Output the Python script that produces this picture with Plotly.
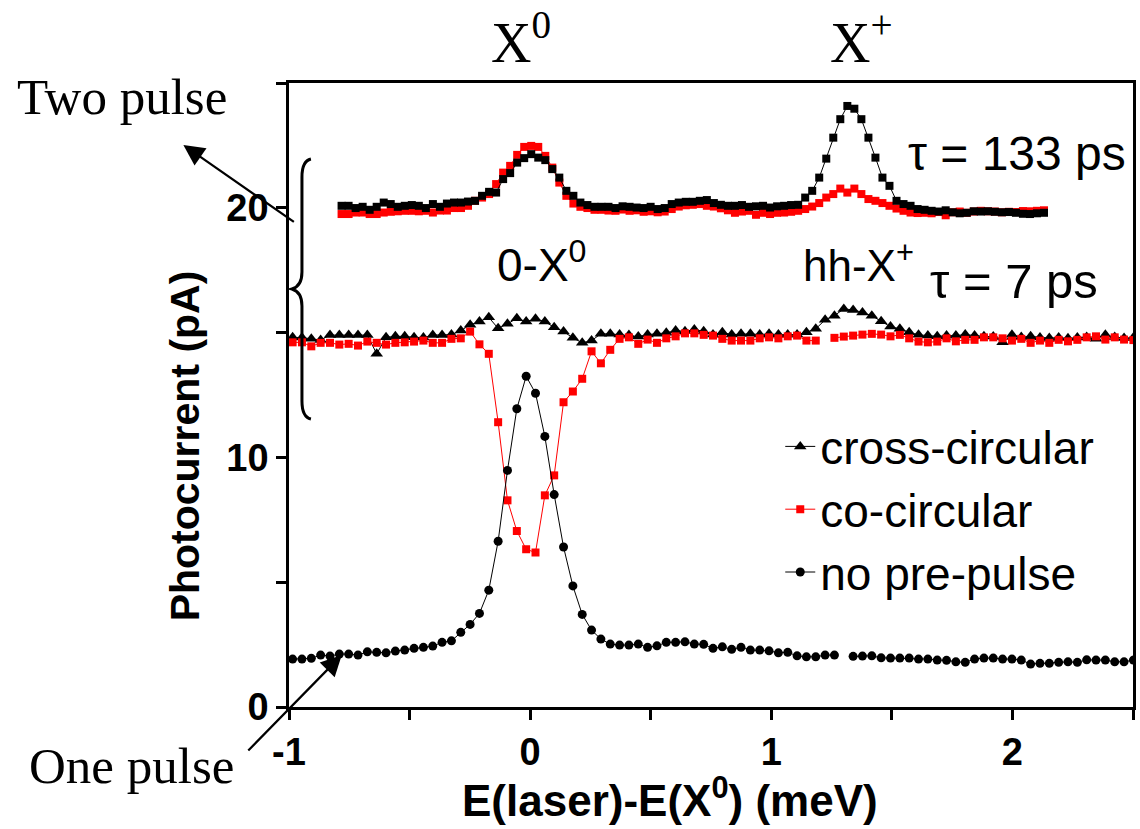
import numpy as np
import plotly.graph_objects as go

# ---------------- data ----------------
# energy grid of the one-pulse / 7 ps scans (meV)
MID_X_START, MID_X_STEP, MID_N = -0.985, 0.03874, 91
# energy grid of the 133 ps scans (meV)
TOP_X_START, TOP_X_STEP, TOP_N = -0.782, 0.02913, 101

x_mid = np.round(MID_X_START + MID_X_STEP * np.arange(MID_N), 4)
x_top = np.round(TOP_X_START + TOP_X_STEP * np.arange(TOP_N), 4)

# tau = 133 ps, cross-circular (black squares)
top_cross = [20.08, 20.08, 19.99, 20.04, 19.92, 20.04, 20.21, 20.15, 20.04, 20.08,
             20.11, 20.08, 19.99, 20.15, 20.04, 20.17, 20.21, 20.21, 20.25, 20.28,
             20.48, 20.64, 20.61, 21.15, 21.39, 21.81, 21.99, 22.15, 22.01, 21.91,
             21.55, 21.21, 20.68, 20.48, 20.21, 20.11, 20.04, 20.04, 20.04, 19.99,
             20.06, 20.04, 20.01, 19.99, 20.04, 19.95, 19.99, 20.15, 20.21, 20.24,
             20.24, 20.28, 20.31, 20.19, 20.12, 20.08, 20.08, 20.11, 20.04, 20.06,
             20.08, 20.01, 20.06, 20.08, 20.11, 20.12, 20.41, 20.68, 21.21, 21.97,
             22.81, 23.55, 24.08, 23.97, 23.55, 22.81, 22.01, 21.21, 20.88, 20.28,
             20.15, 20.08, 19.95, 19.92, 19.88, 19.85, 19.90, 19.82, 19.78, 19.80,
             19.86, 19.85, 19.86, 19.84, 19.82, 19.83, 19.80, 19.76, 19.75, 19.78,
             19.80]
# tau = 133 ps, co-circular (red squares)
top_co = [19.75, 19.75, 19.81, 19.81, 19.75, 19.75, 19.81, 19.84, 19.86, 19.88,
          19.88, 19.86, 19.88, 19.81, 19.89, 19.89, 19.99, 19.99, 20.08, 20.28,
          20.41, 20.55, 20.95, 21.41, 21.68, 22.12, 22.44, 22.48, 22.44, 22.08,
          21.61, 21.01, 20.48, 20.17, 20.04, 19.99, 19.92, 19.92, 19.89, 19.88,
          19.93, 19.88, 19.90, 19.84, 19.86, 19.82, 19.85, 19.95, 20.05, 20.10,
          20.12, 20.15, 20.08, 20.05, 19.98, 19.90, 19.80, 19.85, 19.88, 19.72,
          19.80, 19.75, 19.80, 19.81, 19.84, 19.88, 19.95, 20.05, 20.19, 20.41,
          20.55, 20.77, 20.61, 20.77, 20.55, 20.35, 20.28, 20.19, 20.08, 19.97,
          19.88, 19.81, 19.79, 19.80, 19.78, 19.83, 19.70, 19.82, 19.85, 19.80,
          19.85, 19.88, 19.86, 19.85, 19.82, 19.84, 19.83, 19.87, 19.86, 19.88,
          19.90]
# tau = 7 ps, cross-circular (black triangles)
mid_cross = [14.81, 14.80, 14.75, 14.70, 14.90, 14.90, 14.90, 14.90, 14.90, 14.15,
             14.81, 14.85, 14.85, 14.81, 14.80, 14.90, 14.90, 14.92, 15.08, 15.31,
             15.44, 15.61, 15.17, 15.35, 15.57, 15.44, 15.55, 15.44, 15.21, 15.04,
             14.79, 14.59, 14.68, 14.95, 14.95, 14.92, 14.90, 14.84, 14.92, 14.95,
             14.99, 15.08, 15.05, 15.12, 15.05, 14.92, 15.01, 14.92, 14.95, 14.95,
             14.92, 14.95, 14.92, 14.92, 14.92, 15.01, 15.15, 15.51, 15.68, 15.95,
             15.91, 15.81, 15.68, 15.45, 15.24, 15.15, 15.01, 14.91, 14.88, 14.85,
             14.88, 14.88, 14.92, 14.88, 14.85, 14.84, 14.61, 14.91, 14.82, 14.85,
             14.80, 14.78, 14.80, 14.77, 14.80, 14.82, 14.75, 14.91, 14.82, 14.78,
             14.80]
# tau = 7 ps, co-circular (red squares)
mid_co = [14.61, 14.61, 14.45, 14.59, 14.59, 14.52, 14.55, 14.48, 14.64, 14.59,
          14.52, 14.59, 14.61, 14.64, 14.68, 14.59, 14.59, 14.75, 14.77, 15.04,
          14.53, 14.15, 11.41, 8.28, 7.05, 6.32, 6.19, 8.48, 9.28, 12.21,
          12.64, 13.15, 14.25, 13.77, 14.31, 14.75, 14.81, 14.55, 14.72, 14.59,
          14.77, 14.85, 14.97, 14.97, 14.91, 14.88, 14.75, 14.68, 14.68, 14.68,
          14.77, 14.81, 14.77, 14.85, 14.88, 14.68, 14.68, None, 14.79, 14.84,
          14.88, 14.92, 14.95, 14.92, 14.85, 14.91, 14.77, 14.64, 14.61, 14.64,
          14.77, 14.65, 14.71, 14.71, 14.81, 14.81, 14.77, 14.68, 14.75, 14.59,
          14.68, 14.59, 14.71, 14.65, 14.71, 14.81, 14.85, 14.72, 14.81, 14.72,
          14.70]
# one pulse, no pre-pulse (black circles)
no_pre = [1.92, 1.92, 1.95, 2.08, 2.04, 2.12, 2.12, 2.08, 2.21, 2.19,
          2.17, 2.24, 2.28, 2.35, 2.39, 2.44, 2.59, 2.65, 2.99, 3.31,
          3.75, 4.68, 6.64, 9.48, 11.95, 13.25, 12.57, 10.84, 8.51, 6.41,
          4.85, 3.71, 3.08, 2.72, 2.52, 2.48, 2.48, 2.52, 2.39, 2.45,
          2.59, 2.59, 2.61, 2.52, 2.51, 2.35, 2.41, 2.31, 2.39, 2.28,
          2.28, 2.25, 2.17, 2.19, 2.05, 2.01, 2.01, 2.08, 2.08, None,
          2.03, 2.04, 2.05, 1.97, 1.96, 1.96, 1.96, 1.92, 1.92, 1.88,
          1.87, 1.81, 1.79, 1.92, 1.96, 1.96, 1.92, 1.92, 1.88, 1.72,
          1.75, 1.75, 1.79, 1.81, 1.79, 1.89, 1.88, 1.88, 1.81, 1.81,
          1.88]

legend_names = ["cross-circular", "co-circular", "no pre-pulse"]
x_tick_vals = [-1, 0, 1, 2]
x_tick_text = ["-1", "0", "1", "2"]
y_tick_vals = [0, 10, 20]
y_tick_text = ["0", "10", "20"]

# ---------------- figure ----------------
W, H = 1140, 829
L, R, T, B = 289, 4, 83, 122
PW, PH = W - L - R, H - T - B

def px(xp):
    return (xp - L) / PW

def py(yp):
    return (H - B - yp) / PH

SANS = "Liberation Sans, Arial, sans-serif"
SERIF = "Liberation Serif, Times New Roman, serif"

fig = go.Figure()

fig.add_trace(go.Scatter(x=x_top, y=top_co, mode="lines+markers", showlegend=False,
                         line=dict(color="red", width=1),
                         marker=dict(symbol="square", size=8, color="red")))
fig.add_trace(go.Scatter(x=x_top, y=top_cross, mode="lines+markers", showlegend=False,
                         line=dict(color="black", width=1),
                         marker=dict(symbol="square", size=8, color="black")))
fig.add_trace(go.Scatter(x=x_mid, y=mid_cross, mode="lines+markers", name=legend_names[0],
                         line=dict(color="black", width=1),
                         marker=dict(symbol="triangle-up", size=11, color="black")))
fig.add_trace(go.Scatter(x=x_mid, y=mid_co, mode="lines+markers", name=legend_names[1],
                         line=dict(color="red", width=1),
                         marker=dict(symbol="square", size=8, color="red")))
fig.add_trace(go.Scatter(x=x_mid, y=no_pre, mode="lines+markers", name=legend_names[2],
                         line=dict(color="black", width=1),
                         marker=dict(symbol="circle", size=9, color="black")))

axis_common = dict(showline=True, linecolor="black", linewidth=2.5, mirror=True,
                   ticks="outside", ticklen=10, tickwidth=2.5, tickcolor="black",
                   showgrid=False, zeroline=False, tickmode="array",
                   tickfont=dict(family=SANS, size=38, color="black", weight="bold"))

fig.update_xaxes(range=[-1, 2.5], tickvals=x_tick_vals, ticktext=x_tick_text,
                 minor=dict(dtick=0.5, tick0=0, ticks="outside", ticklen=10, tickwidth=2.5,
                            tickcolor="black"),
                 **axis_common)
fig.update_yaxes(range=[0, 25], tickvals=y_tick_vals, ticktext=y_tick_text,
                 minor=dict(dtick=5, tick0=0, ticks="outside", ticklen=10, tickwidth=2.5,
                            tickcolor="black"),
                 **axis_common)

annos = [
    dict(text="X<sup>0</sup>", x=px(490), y=py(38), font=dict(family=SERIF, size=56)),
    dict(text="X<sup>+</sup>", x=px(830), y=py(38), font=dict(family=SERIF, size=56)),
    dict(text="Two pulse", x=px(14), y=py(97), font=dict(family=SERIF, size=51)),
    dict(text="One pulse", x=px(26), y=py(766), font=dict(family=SERIF, size=51)),
    dict(text="τ = 133 ps", x=px(908), y=py(153), font=dict(family=SANS, size=48)),
    dict(text="τ = 7 ps", x=px(930), y=py(281), font=dict(family=SANS, size=49)),
    dict(text="0-X<sup>0</sup>", x=px(496), y=py(262), font=dict(family=SANS, size=46)),
    dict(text="hh-X<sup>+</sup>", x=px(803), y=py(262), font=dict(family=SANS, size=44)),
]
for a in annos:
    a["font"]["color"] = "black"
    fig.add_annotation(xref="paper", yref="paper", xanchor="left", yanchor="middle",
                       showarrow=False, **a)

# axis titles (placed as in the reference)
fig.add_annotation(xref="paper", yref="paper", x=px(671), y=py(797), xanchor="center",
                   yanchor="middle", showarrow=False,
                   text="<b>E(laser)-E(X<sup>0</sup>) (meV)</b>",
                   font=dict(family=SANS, size=44, color="black"))
fig.add_annotation(xref="paper", yref="paper", x=px(185), y=py(446), xanchor="center",
                   yanchor="middle", showarrow=False, textangle=-90,
                   text="<b>Photocurrent (pA)</b>",
                   font=dict(family=SANS, size=41, color="black"))

# arrows
fig.add_annotation(xref="paper", yref="paper", x=px(183), y=py(145), ax=112, ay=78,
                   axref="pixel", ayref="pixel", text="", showarrow=True,
                   arrowhead=2, arrowsize=1.9, arrowwidth=2.2, arrowcolor="black")
fig.add_annotation(xref="paper", yref="paper", x=px(342), y=py(655), ax=-95, ay=97,
                   axref="pixel", ayref="pixel", text="", showarrow=True,
                   arrowhead=2, arrowsize=1.9, arrowwidth=2.2, arrowcolor="black")

# curly brace
pts = [("M", 311, 159), ("Q", 302, 161, 302, 177), ("L", 302, 272), ("Q", 302, 286, 292, 289),
       ("Q", 302, 292, 302, 306), ("L", 302, 401), ("Q", 302, 417, 311, 419)]
path = ""
for p in pts:
    cmd, coords = p[0], p[1:]
    pairs = [f"{px(coords[k]):.5f},{py(coords[k+1]):.5f}" for k in range(0, len(coords), 2)]
    path += cmd + " " + " ".join(pairs) + " "
fig.add_shape(type="path", xref="paper", yref="paper", path=path.strip(),
              line=dict(color="black", width=3))

fig.update_layout(
    width=W, height=H, margin=dict(l=L, r=R, t=T, b=B),
    plot_bgcolor="white", paper_bgcolor="white",
    font=dict(family=SANS, color="black"),
    legend=dict(x=px(782), y=py(410), xanchor="left", yanchor="top",
                bgcolor="rgba(0,0,0,0)", font=dict(family=SANS, size=46, color="black"),
                tracegroupgap=0),
)

fig.write_html("out.html")
